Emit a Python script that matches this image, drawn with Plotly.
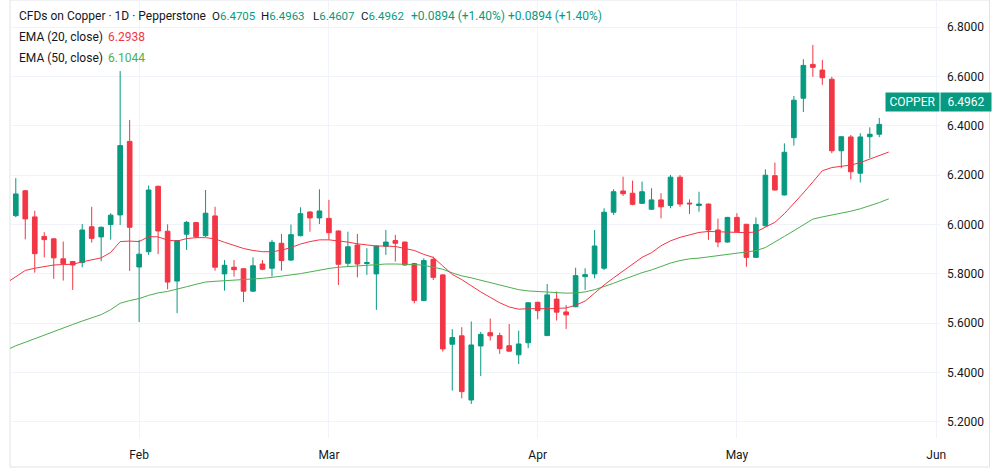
import pandas as pd
import plotly.graph_objects as go

# ---------------- data ----------------
# daily bars Jan 14 2026 .. May 22 2026 (weekdays, Good Friday closed)
holidays = ["2026-04-03"]
bar_dates = [d.strftime("%Y-%m-%d") for d in pd.bdate_range("2026-01-14", "2026-05-22")
             if d.strftime("%Y-%m-%d") not in holidays]
ema_dates = [d.strftime("%Y-%m-%d") for d in pd.bdate_range("2026-01-13", "2026-05-25")
             if d.strftime("%Y-%m-%d") not in holidays]

opens = [6.036, 6.137, 6.031, 5.952, 5.942, 5.861, 5.850, 5.846, 5.991, 5.950,
         6.000, 6.039, 6.337, 5.828, 5.890, 6.155, 5.973, 5.771, 5.961, 6.008,
         5.955, 6.035, 5.800, 5.827, 5.821, 5.730, 5.840, 5.823, 5.924, 5.856,
         5.955, 6.051, 6.027, 6.025, 5.974, 5.843, 5.917, 5.842, 5.800, 5.912,
         5.935, 5.929, 5.842, 5.692, 5.859, 5.796, 5.515, 5.549, 5.289, 5.508,
         5.562, 5.550, 5.509, 5.472, 5.521, 5.685, 5.550, 5.698, 5.646, 5.667,
         5.789, 5.800, 5.823, 6.050, 6.136, 6.127, 6.086, 6.062, 6.100, 6.077,
         6.192, 6.087, 6.077, 6.083, 5.978, 5.929, 6.029, 6.001, 5.867, 5.995,
         6.198, 6.120, 6.352, 6.512, 6.649, 6.626, 6.589, 6.299, 6.355, 6.208,
         6.356, 6.366]
highs = [6.188, 6.140, 6.056, 5.969, 5.945, 5.931, 5.852, 6.002, 6.072, 5.992,
         6.046, 6.622, 6.424, 5.938, 6.158, 6.158, 6.001, 5.937, 6.015, 6.010,
         6.140, 6.072, 5.856, 5.856, 5.823, 5.867, 5.856, 5.938, 5.962, 6.000,
         6.070, 6.054, 6.143, 6.100, 5.976, 5.971, 5.962, 5.904, 5.915, 5.978,
         5.958, 5.931, 5.845, 5.863, 5.870, 5.798, 5.576, 5.584, 5.607, 5.565,
         5.619, 5.562, 5.597, 5.570, 5.685, 5.687, 5.759, 5.728, 5.674, 5.825,
         5.823, 5.978, 6.066, 6.143, 6.194, 6.178, 6.174, 6.147, 6.127, 6.201,
         6.201, 6.102, 6.133, 6.085, 6.024, 6.031, 6.046, 6.003, 6.029, 6.224,
         6.251, 6.329, 6.521, 6.670, 6.728, 6.667, 6.599, 6.358, 6.363, 6.370,
         6.394, 6.432]
lows = [6.030, 5.940, 5.805, 5.867, 5.780, 5.773, 5.735, 5.827, 5.927, 5.851,
        5.939, 5.998, 5.812, 5.605, 5.877, 5.880, 5.738, 5.641, 5.897, 5.945,
        5.950, 5.813, 5.732, 5.789, 5.686, 5.728, 5.815, 5.789, 5.813, 5.853,
        5.952, 5.971, 6.002, 5.938, 5.755, 5.829, 5.786, 5.796, 5.654, 5.877,
        5.850, 5.833, 5.681, 5.690, 5.775, 5.485, 5.327, 5.296, 5.273, 5.386,
        5.530, 5.476, 5.485, 5.435, 5.499, 5.616, 5.548, 5.611, 5.577, 5.665,
        5.735, 5.782, 5.816, 6.039, 6.116, 6.078, 6.084, 6.059, 6.025, 6.066,
        6.072, 6.043, 6.052, 5.938, 5.908, 5.927, 5.969, 5.829, 5.865, 5.993,
        6.138, 6.118, 6.320, 6.456, 6.599, 6.566, 6.289, 6.228, 6.183, 6.170,
        6.269, 6.354]
closes = [6.124, 6.023, 5.882, 5.939, 5.865, 5.842, 5.836, 5.978, 5.944, 5.989,
          6.038, 6.320, 5.989, 5.880, 6.140, 5.974, 5.767, 5.935, 6.009, 5.951,
          6.046, 5.827, 5.835, 5.817, 5.730, 5.833, 5.819, 5.928, 5.854, 5.959,
          6.044, 6.027, 6.055, 5.967, 5.839, 5.910, 5.840, 5.846, 5.913, 5.929,
          5.924, 5.836, 5.692, 5.854, 5.786, 5.496, 5.542, 5.323, 5.512, 5.555,
          5.549, 5.497, 5.487, 5.516, 5.683, 5.651, 5.715, 5.645, 5.634, 5.793,
          5.797, 5.913, 6.050, 6.133, 6.125, 6.082, 6.133, 6.100, 6.072, 6.192,
          6.083, 6.084, 6.083, 5.978, 5.929, 6.029, 5.971, 5.867, 6.000, 6.200,
          6.140, 6.293, 6.504, 6.645, 6.637, 6.595, 6.299, 6.356, 6.214, 6.355,
          6.366, 6.406]

ema20 = [5.763, 5.790, 5.814, 5.823, 5.830, 5.836, 5.838, 5.839, 5.849, 5.856, 5.865,
         5.887, 5.931, 5.933, 5.931, 5.951, 5.950, 5.937, 5.933, 5.943, 5.947,
         5.947, 5.942, 5.928, 5.914, 5.903, 5.895, 5.890, 5.890, 5.896, 5.907,
         5.921, 5.931, 5.938, 5.938, 5.934, 5.929, 5.922, 5.917, 5.913, 5.913,
         5.911, 5.903, 5.895, 5.879, 5.867, 5.832, 5.798, 5.777, 5.751, 5.727,
         5.705, 5.683, 5.666, 5.657, 5.659, 5.658, 5.659, 5.660, 5.662, 5.673,
         5.690, 5.722, 5.755, 5.784, 5.812, 5.840, 5.867, 5.886, 5.914, 5.934,
         5.948, 5.958, 5.968, 5.972, 5.971, 5.970, 5.968, 5.967, 5.970, 5.988,
         6.009, 6.044, 6.085, 6.128, 6.173, 6.218, 6.231, 6.237, 6.241, 6.251,
         6.266, 6.282, 6.2938]
ema50 = [5.491, 5.509, 5.523, 5.538, 5.552, 5.566, 5.580, 5.595, 5.609, 5.621, 5.635,
         5.655, 5.681, 5.692, 5.700, 5.713, 5.723, 5.729, 5.737, 5.748, 5.758,
         5.767, 5.770, 5.772, 5.775, 5.777, 5.779, 5.782, 5.786, 5.790, 5.794,
         5.801, 5.808, 5.816, 5.822, 5.827, 5.830, 5.832, 5.835, 5.838, 5.840,
         5.840, 5.840, 5.838, 5.835, 5.828, 5.819, 5.804, 5.792, 5.784, 5.774,
         5.765, 5.755, 5.746, 5.736, 5.731, 5.728, 5.726, 5.724, 5.722, 5.723,
         5.727, 5.736, 5.748, 5.762, 5.777, 5.792, 5.805, 5.816, 5.831, 5.844,
         5.854, 5.861, 5.864, 5.869, 5.874, 5.878, 5.883, 5.886, 5.894, 5.907,
         5.928, 5.952, 5.975, 6.000, 6.022, 6.031, 6.038, 6.047, 6.054, 6.064,
         6.076, 6.089, 6.1044]

y_ticks = [5.2, 5.4, 5.6, 5.8, 6.0, 6.2, 6.4, 6.6, 6.8]
month_ticks = ["2026-02-02", "2026-03-02", "2026-04-01", "2026-05-01", "2026-06-01"]
month_labels = ["Feb", "Mar", "Apr", "May", "Jun"]

symbol_title = "CFDs on Copper · 1D · Pepperstone"
ohlc_keys = ["O", "H", "L", "C"]
ohlc_vals = ["6.4705", "6.4963", "6.4607", "6.4962"]
hdr_change = "+0.0894 (+1.40%)"
ema_labels = ["EMA (20, close)", "EMA (50, close)"]
ema_lasts = ["6.2938", "6.1044"]
last_price = 6.4962
ticker = "COPPER"

# ---------------- style ----------------
UP = "#089981"
DOWN = "#F23645"
EMA20_C = "#F23645"
EMA50_C = "#4CAF50"
TXT = "#131722"
GRID = "#f0f3fa"
FONT = "Roboto"
LEG_SIZE = 12

fig = go.Figure()
fig.add_trace(go.Scatter(x=ema_dates, y=ema50, mode="lines",
                         line=dict(color=EMA50_C, width=1), hoverinfo="skip", showlegend=False))
fig.add_trace(go.Scatter(x=ema_dates, y=ema20, mode="lines",
                         line=dict(color=EMA20_C, width=1), hoverinfo="skip", showlegend=False))
fig.add_trace(go.Candlestick(
    x=bar_dates, open=opens, high=highs, low=lows, close=closes,
    increasing=dict(line=dict(color=UP, width=1), fillcolor=UP),
    decreasing=dict(line=dict(color=DOWN, width=1), fillcolor=DOWN),
    whiskerwidth=0, showlegend=False))

PLOT_H = 438.0
PLOT_W = 930.0

def py2paper(py):
    return 1 - py / PLOT_H

def px2paper(px):
    return (px - 10) / PLOT_W

def g(s, c=UP):
    return f"<span style='color:{c}'>{s}</span>"

def legend_text(text, px, py, size=LEG_SIZE):
    return dict(text=text, x=px2paper(px), y=py2paper(py), xref="paper", yref="paper",
                xanchor="left", yanchor="middle", showarrow=False, borderpad=0,
                font=dict(family=FONT, size=size, color=TXT))

annotations = [legend_text(symbol_title, 18, 16)]
for key, val, px in zip(ohlc_keys, ohlc_vals, [210.5, 260, 312, 360]):
    annotations.append(legend_text(key + g(val), px, 16, 11.5))
annotations.append(legend_text(g(hdr_change), 410, 16))
annotations.append(legend_text(g(hdr_change), 507, 16))
annotations.append(legend_text(ema_labels[0], 18, 37))
annotations.append(legend_text(g(ema_lasts[0], EMA20_C), 106.5, 37))
annotations.append(legend_text(ema_labels[1], 18, 58))
annotations.append(legend_text(g(ema_lasts[1], EMA50_C), 106.5, 58))

annotations += [
    dict(text=ticker, x=1, y=last_price, xref="paper", yref="y", xanchor="right", yanchor="middle",
         showarrow=False, bgcolor=UP, width=49, height=14, borderpad=2,
         font=dict(family=FONT, size=12, color="white")),
    dict(text=f"{last_price:.4f}", x=1, y=last_price, xref="paper", yref="y", xanchor="left",
         yanchor="middle", showarrow=False, bgcolor=UP, width=46, height=14, borderpad=2,
         font=dict(family=FONT, size=12, color="white")),
]

shapes = [
    dict(type="rect", xref="paper", yref="paper", x0=0, x1=px2paper(989.5),
         y0=py2paper(467), y1=1, line=dict(color="#e0e3eb", width=1), layer="below"),
]

fig.update_layout(
    width=1000, height=476,
    margin=dict(l=10, r=60, t=0, b=38),
    paper_bgcolor="white", plot_bgcolor="white",
    font=dict(family=FONT, size=12, color=TXT),
    annotations=annotations, shapes=shapes,
    showlegend=False, hovermode=False,
)
fig.update_xaxes(
    type="date",
    rangebreaks=[dict(bounds=["sat", "mon"]), dict(values=holidays)],
    range=["2026-01-13 09:22", "2026-06-01 09:36"],
    rangeslider_visible=False,
    tickvals=month_ticks, ticktext=month_labels,
    showgrid=True, gridcolor=GRID, gridwidth=1,
    zeroline=False, showline=False, ticks="",
    ticklabelstandoff=8,
    tickfont=dict(family=FONT, size=12, color=TXT),
)
fig.update_yaxes(
    side="right", range=[5.135, 6.910],
    tickvals=y_ticks, tickformat=".4f",
    showgrid=True, gridcolor=GRID, gridwidth=1,
    zeroline=False, showline=False, ticks="",
    ticklabelstandoff=6,
    tickfont=dict(family=FONT, size=12, color=TXT),
)

fig.write_html("out.html")
